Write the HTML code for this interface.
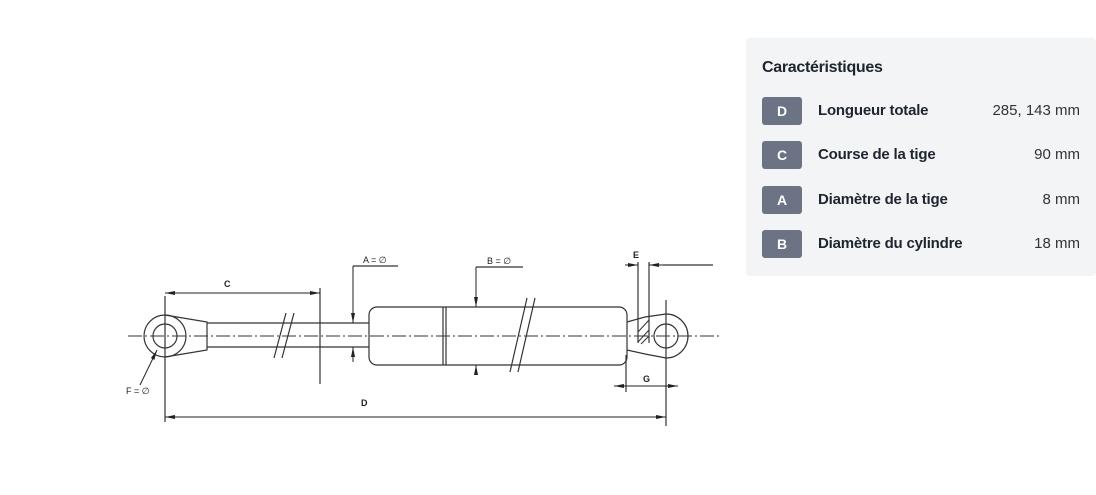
<!DOCTYPE html>
<html><head><meta charset="utf-8"><style>
body{margin:0;width:1096px;height:495px;background:#fff;position:relative;overflow:hidden;font-family:"Liberation Sans",sans-serif}
.panel{position:absolute;left:746px;top:38px;width:350px;height:238px;background:#f2f4f6;border-radius:4px}
.t{position:absolute;left:16px;top:21px;font-size:16px;font-weight:bold;color:#1e2430;letter-spacing:-0.3px}
.row{position:absolute;left:16px;width:318px;height:28px}
.b{position:absolute;left:0;top:0;width:40px;height:28px;background:#6b7385;border-radius:3px;color:#fff;font-weight:bold;font-size:14px;text-align:center;line-height:28px}
.l{position:absolute;left:56px;top:5px;font-size:15px;font-weight:bold;color:#1e2430;letter-spacing:-0.2px}
.v{position:absolute;right:0;top:5px;font-size:15px;color:#333}
</style></head><body>
<svg width="740" height="495" style="position:absolute;left:0;top:0" font-family="Liberation Sans" font-size="9" font-weight="bold">
<defs><marker id="a" markerWidth="10" markerHeight="6" refX="10" refY="3" orient="auto-start-reverse"><path d="M0,1 L10,3 L0,5Z" fill="#222"/></marker></defs>
<g stroke="#333" stroke-width="1.2" fill="none">
<line x1="128" y1="336" x2="722" y2="336" stroke-dasharray="14,3,2,3" stroke-width="1"/>
<circle cx="165" cy="336" r="21"/><circle cx="165" cy="336" r="12"/>
<path d="M165,315 L207,322 L207,350 L165,357"/>
<line x1="207" y1="323" x2="369" y2="323"/><line x1="207" y1="347" x2="369" y2="347"/>
<rect x="369" y="307" width="258" height="58" rx="8"/>
<line x1="443" y1="307" x2="443" y2="365"/><line x1="446" y1="307" x2="446" y2="365"/>
<path d="M627,322 L645,317 M627,350 L645,354"/>
<path d="M645,317 L666,314 A22,22 0 0 1 666,358 L645,354"/>
<circle cx="666" cy="336" r="12"/>
<line x1="638" y1="262" x2="638" y2="343"/><line x1="649" y1="262" x2="649" y2="343"/>
<path d="M638,332 L649,320 M638,342 L649,330 M641,344 L649,336" stroke-width="1"/>
<line x1="274" y1="358" x2="286" y2="313"/><line x1="282" y1="358" x2="294" y2="313"/>
<line x1="510" y1="372" x2="527" y2="298"/><line x1="518" y1="372" x2="535" y2="298"/>
<line x1="165" y1="296" x2="165" y2="422"/><line x1="320" y1="288" x2="320" y2="384"/>
<line x1="666" y1="300" x2="666" y2="426"/><line x1="626" y1="355" x2="626" y2="392"/>
<line x1="353" y1="266" x2="398" y2="266"/><line x1="476" y1="267" x2="523" y2="267"/>
<line x1="663" y1="265" x2="713" y2="265"/>
</g>
<g stroke="#222" stroke-width="1">
<line x1="165" y1="293" x2="320" y2="293" marker-start="url(#a)" marker-end="url(#a)"/>
<line x1="165" y1="417" x2="666" y2="417" marker-start="url(#a)" marker-end="url(#a)"/>
<line x1="353" y1="266" x2="353" y2="323" marker-end="url(#a)"/><line x1="353" y1="362" x2="353" y2="347" marker-end="url(#a)"/>
<line x1="476" y1="267" x2="476" y2="307" marker-end="url(#a)"/><line x1="476" y1="375" x2="476" y2="365" marker-end="url(#a)"/>
<line x1="625" y1="265" x2="638" y2="265" marker-end="url(#a)"/><line x1="663" y1="265" x2="649" y2="265" marker-end="url(#a)"/>
<line x1="614" y1="386" x2="678" y2="386" marker-start="url(#a)" marker-end="url(#a)"/>
<line x1="140" y1="385" x2="157" y2="350" marker-end="url(#a)"/>
</g>
<g fill="#222">
<text x="224" y="287">C</text><text x="361" y="406">D</text>
<text x="363" y="263" font-weight="normal">A = ∅</text><text x="487" y="264" font-weight="normal">B = ∅</text>
<text x="633" y="258">E</text><text x="643" y="382">G</text>
<text x="126" y="394" font-weight="normal">F = ∅</text>
</g>
</svg>
<div class="panel">
<div class="t">Caractéristiques</div>
<div class="row" style="top:59px"><div class="b">D</div><div class="l">Longueur totale</div><div class="v">285, 143 mm</div></div>
<div class="row" style="top:103px"><div class="b">C</div><div class="l">Course de la tige</div><div class="v">90 mm</div></div>
<div class="row" style="top:148px"><div class="b">A</div><div class="l">Diamètre de la tige</div><div class="v">8 mm</div></div>
<div class="row" style="top:192px"><div class="b">B</div><div class="l">Diamètre du cylindre</div><div class="v">18 mm</div></div>
</div>
</body></html>
